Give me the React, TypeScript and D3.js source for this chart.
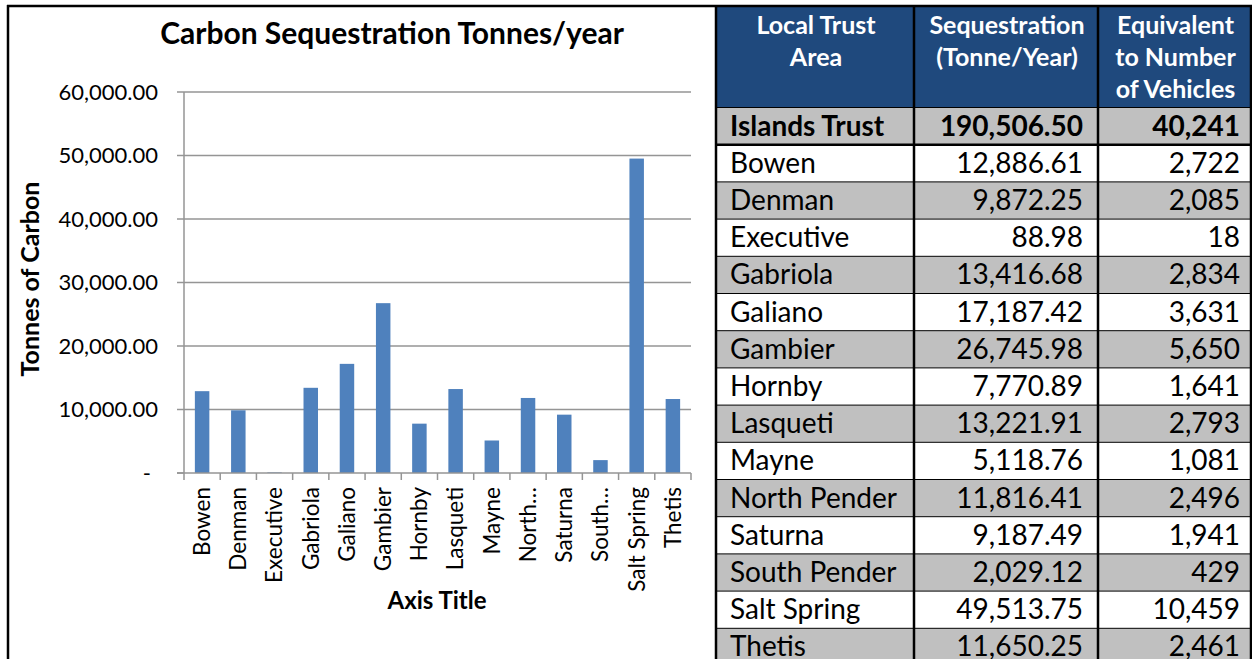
import React from 'react';
import * as d3 from 'd3';

// table rows (first row is the total)
const areas = ['Islands Trust', 'Bowen', 'Denman', 'Executive', 'Gabriola', 'Galiano', 'Gambier', 'Hornby', 'Lasqueti', 'Mayne', 'North Pender', 'Saturna', 'South Pender', 'Salt Spring', 'Thetis'];
const sequestration = [190506.50, 12886.61, 9872.25, 88.98, 13416.68, 17187.42, 26745.98, 7770.89, 13221.91, 5118.76, 11816.41, 9187.49, 2029.12, 49513.75, 11650.25];
const vehicles = [40241, 2722, 2085, 18, 2834, 3631, 5650, 1641, 2793, 1081, 2496, 1941, 429, 10459, 2461];

// chart categories as shown on the axis
const chartLabels = ['Bowen', 'Denman', 'Executive', 'Gabriola', 'Galiano', 'Gambier', 'Hornby', 'Lasqueti', 'Mayne', 'North…', 'Saturna', 'South…', 'Salt Spring', 'Thetis'];
const chartValues = sequestration.slice(1);
const yTicks = [0, 10000, 20000, 30000, 40000, 50000, 60000];

const headers = [['Local Trust', 'Area'], ['Sequestration', '(Tonne/Year)'], ['Equivalent', 'to Number', 'of Vehicles']];

const FONT = 'Lato, "Open Sans", sans-serif';

const fmt2 = d3.format(',.2f');
const fmt0 = d3.format(',');

const Chart = () => {
  const x = d3.scaleBand<string>().domain(chartLabels).range([184, 691]);
  const y = d3.scaleLinear().domain([0, 60000]).range([473, 92]);
  const barW = x.bandwidth() * 0.4;
  const grid = '#959595';

  return (
    <g>
      <text x={392} y={44} textAnchor="middle" fontFamily={FONT} fontWeight="bold" fontSize={30}>
        Carbon Sequestration Tonnes/year
      </text>
      {yTicks.map(t => (
        <g key={t}>
          {t > 0 && <line x1={184} x2={691} y1={y(t)} y2={y(t)} stroke={grid} strokeWidth={1.5} />}
          <line x1={177} x2={184} y1={y(t)} y2={y(t)} stroke={grid} strokeWidth={1.5} />
          <text x={t === 0 ? 151 : 158} y={y(t)} dy="0.35em" textAnchor="end" fontFamily={FONT} fontSize={22}>
            {t === 0 ? '-' : fmt2(t)}
          </text>
        </g>
      ))}
      {chartLabels.map((c, i) => (
        <rect key={c} x={x(c)! + (x.bandwidth() - barW) / 2} y={y(chartValues[i])}
          width={barW} height={y(0) - y(chartValues[i])} fill="#4F81BD" />
      ))}
      <line x1={184} x2={184} y1={92} y2={473} stroke={grid} strokeWidth={1.5} />
      <line x1={177} x2={691} y1={473} y2={473} stroke={grid} strokeWidth={1.5} />
      {chartLabels.map(c => (
        <line key={'t' + c} x1={x(c)!} x2={x(c)!} y1={473} y2={480} stroke={grid} strokeWidth={1.5} />
      ))}
      <line x1={691} x2={691} y1={473} y2={480} stroke={grid} strokeWidth={1.5} />
      {chartLabels.map(c => (
        <text key={'l' + c} transform={`translate(${x(c)! + x.bandwidth() / 2},487) rotate(-90)`}
          dy="0.35em" textAnchor="end" fontFamily={FONT} fontSize={22.5}>{c}</text>
      ))}
      <text x={437} y={609} textAnchor="middle" fontFamily={FONT} fontWeight="bold" fontSize={24}>Axis Title</text>
      <text transform="translate(30,279) rotate(-90)" dy="0.35em" textAnchor="middle" fontFamily={FONT}
        fontWeight="bold" fontSize={25}>Tonnes of Carbon</text>
    </g>
  );
};

const Table = () => {
  const cols = [716, 914, 1098, 1251];
  const rowY = d3.scaleLinear().domain([0, 1]).range([107.5, 144.7]);
  const rowH = rowY(1) - rowY(0);

  return (
    <g fontFamily={FONT}>
      <rect x={716} y={7} width={535} height={100} fill="#1F497D" />
      {headers.map((lines, ci) => lines.map((l, li) => (
        <text key={ci + '-' + li} x={(cols[ci] + cols[ci + 1]) / 2 + 1} y={34 + li * 32}
          textAnchor="middle" fill="#fff" fontWeight="bold" fontSize={25}>{l}</text>
      )))}
      {areas.map((a, i) => {
        const top = rowY(i);
        const base = top + rowH / 2 + 9.5;
        const bold = i === 0 ? 'bold' : 'normal';
        return (
          <g key={a}>
            <rect x={716} y={top} width={535} height={rowH} fill={i % 2 === 0 ? '#C0C0C0' : '#FFFFFF'} />
            <line x1={716} x2={1251} y1={top} y2={top} stroke="#000" strokeWidth={i === 1 ? 2.5 : 1} />
            <text x={730} y={base} fontSize={28} fontWeight={bold}>{a}</text>
            <text x={1083} y={base} fontSize={28} fontWeight={bold} textAnchor="end">{fmt2(sequestration[i])}</text>
            <text x={1240} y={base} fontSize={28} fontWeight={bold} textAnchor="end">{fmt0(vehicles[i])}</text>
          </g>
        );
      })}
      {cols.map(cx => (
        <line key={cx} x1={cx} x2={cx} y1={6} y2={659} stroke="#000" strokeWidth={2.5} />
      ))}
    </g>
  );
};

export default function App() {
  return (
    <svg width={1252} height={659} style={{ position: 'absolute', left: 0, top: 0, background: '#fff' }}>
      <rect x={0} y={0} width={1252} height={659} fill="#fff" />
      <Chart />
      <Table />
      <line x1={8} x2={8} y1={5} y2={659} stroke="#000" strokeWidth={2.5} />
      <line x1={7} x2={1252} y1={6} y2={6} stroke="#000" strokeWidth={2.5} />
    </svg>
  );
}
